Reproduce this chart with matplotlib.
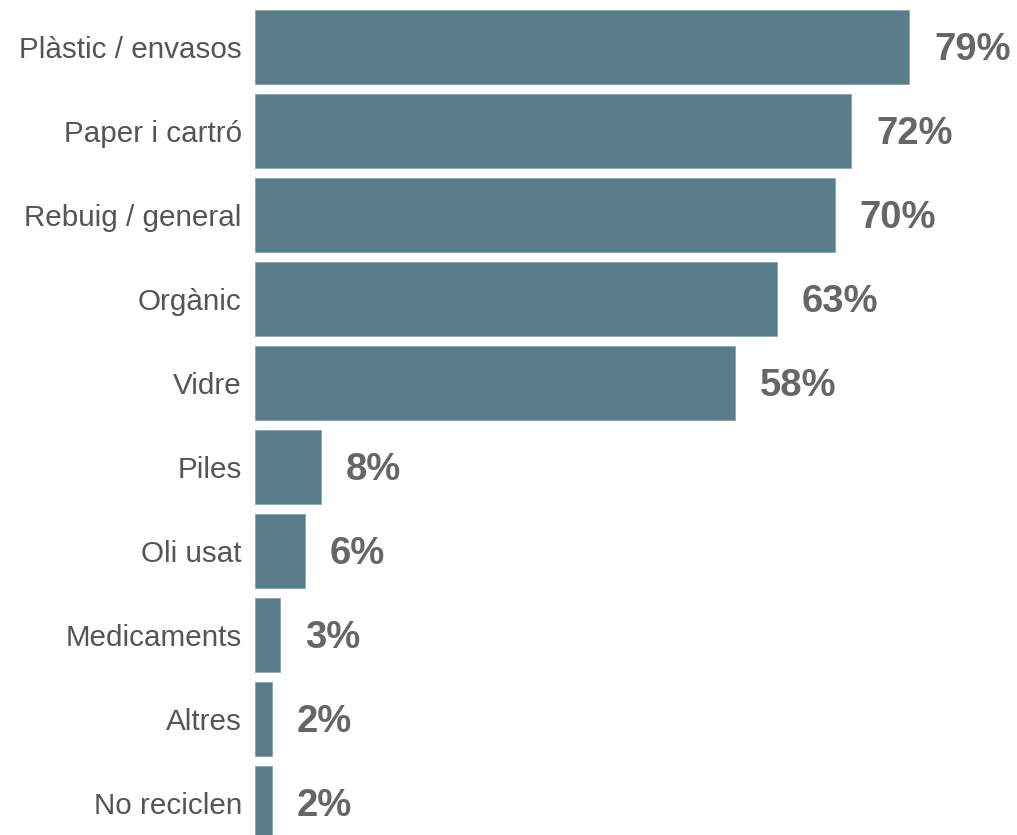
import numpy as np
import matplotlib.pyplot as plt

plt.rcParams['font.family'] = ['Liberation Sans', 'DejaVu Sans']

categories = ['Plàstic / envasos', 'Paper i cartró', 'Rebuig / general', 'Orgànic', 'Vidre',
              'Piles', 'Oli usat', 'Medicaments', 'Altres', 'No reciclen']
values = [79, 72, 70, 63, 58, 8, 6, 3, 2, 2]

fig = plt.figure(figsize=(10.17, 8.35), dpi=100)
ax = fig.add_axes([255 / 1017, 0, 745 / 1017, 1])

y = np.arange(len(categories))
ax.barh(y, values, height=0.89, color='#5a7d8c', edgecolor='#8aa3ae', linewidth=0.6)

for yi, v in zip(y, values):
    ax.text(v + 3, yi + 0.04, f'{v}%', va='center', ha='left', fontsize=27.5,
            fontweight='bold', color='#666666')

ax.set_xlim(0, 745 / 8.28)
ax.set_ylim(9.38, -0.56)
ax.set_yticks(y)
ax.set_yticklabels(categories, fontsize=21.3, color='#555555')
ax.tick_params(axis='y', length=0, pad=9.5)
ax.set_xticks([])
for s in ax.spines.values():
    s.set_visible(False)

fig.savefig('out.png', dpi=100)
